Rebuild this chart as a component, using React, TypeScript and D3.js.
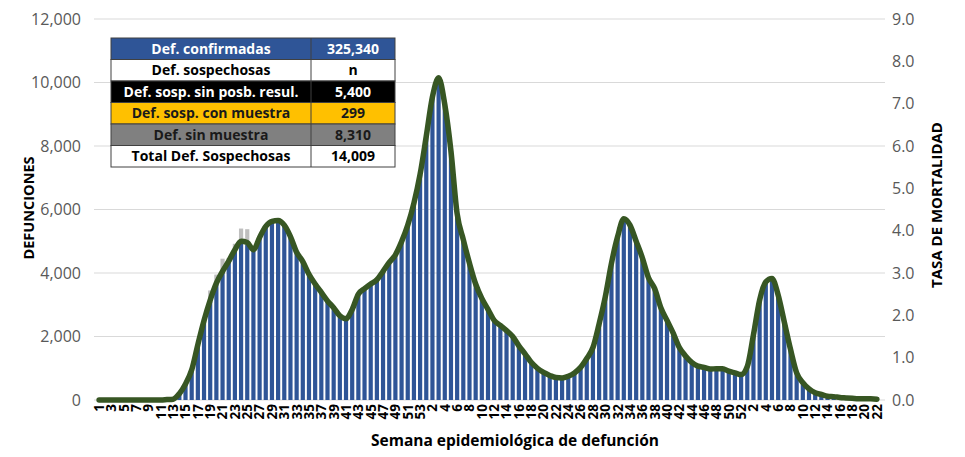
import React from "react";
import * as d3 from "d3";

// Week labels: 2020 (1-53), 2021 (1-52), 2022 (1-22)
const weeks2020 = d3.range(1, 54);
const weeks2021 = d3.range(1, 53);
const weeks2022 = d3.range(1, 23);
const weekLabels: string[] = [...weeks2020, ...weeks2021, ...weeks2022].map(String);

// Confirmed deaths per week
const confirmed: number[] = [
  0, 0, 0, 0, 0, 0, 0, 0, 0, 0, 2, 8,
  30, 200, 500, 950, 1750, 2500, 3100, 3650, 4000, 4350, 4700, 4950, 4900, 4700,
  5100, 5450, 5620, 5650, 5500, 5150, 4650, 4350, 3950, 3650, 3380, 3120, 2900, 2650,
  2560, 2850, 3330, 3500, 3650, 3790, 4050, 4330, 4570, 4980, 5500, 6200, 7100,
  8300, 9550, 10150, 9300, 7850, 5850, 5050, 4300, 3650, 3200, 2850, 2500, 2350,
  2180, 2000, 1700, 1450, 1180, 1000, 870, 770, 710, 690, 740, 850, 1020, 1300,
  1650, 2400, 3250, 4300, 5150, 5700, 5500, 5000, 4480, 3850, 3500, 2900, 2500,
  2100, 1650, 1380, 1180, 1070, 1020, 970, 980, 990, 910, 850, 800,
  1050, 2050, 3150, 3720, 3830, 3300, 2450, 1600, 850, 550, 340, 230, 170, 120,
  100, 80, 60, 50, 45, 40, 35, 30,
];

// Suspected deaths per week (grey stack)
const suspected: number[] = [
  0, 0, 0, 0, 0, 0, 0, 0, 0, 0, 0, 0,
  0, 0, 0, 0, 0, 60, 350, 300, 450, 120, 220, 450, 480, 150,
  60, 40, 0, 0, 0, 0, 0, 0, 0, 0, 0, 0, 0, 0,
  0, 0, 0, 0, 0, 0, 0, 0, 0, 0, 0, 0, 0,
  0, 0, 0, 0, 0, 0, 0, 0, 0, 0, 0, 0, 0,
  0, 0, 0, 0, 0, 0, 0, 0, 0, 0, 0, 0, 0, 0,
  0, 0, 0, 0, 0, 0, 0, 0, 0, 0, 0, 0, 0,
  0, 0, 0, 0, 0, 0, 0, 0, 0, 0, 0, 0,
  0, 0, 0, 0, 0, 0, 0, 0, 0, 0, 0, 0, 0, 0,
  0, 0, 0, 0, 0, 0, 0, 0,
];

// Mortality rate per week (right axis)
const rate: number[] = [
  0, 0, 0, 0, 0, 0, 0, 0, 0, 0, 0, 0.01,
  0.02, 0.15, 0.38, 0.71, 1.31, 1.88, 2.36, 2.76, 3.04, 3.28, 3.55, 3.75, 3.72, 3.55,
  3.84, 4.1, 4.22, 4.24, 4.13, 3.86, 3.49, 3.27, 2.97, 2.74, 2.54, 2.34, 2.18, 1.99,
  1.92, 2.14, 2.5, 2.63, 2.74, 2.84, 3.04, 3.25, 3.43, 3.74, 4.13, 4.65, 5.33,
  6.23, 7.16, 7.61, 6.98, 5.88, 4.4, 3.79, 3.23, 2.74, 2.4, 2.14, 1.88, 1.76,
  1.64, 1.5, 1.28, 1.09, 0.89, 0.75, 0.65, 0.58, 0.53, 0.52, 0.56, 0.64, 0.77, 0.98,
  1.24, 1.8, 2.44, 3.23, 3.86, 4.28, 4.13, 3.75, 3.36, 2.89, 2.63, 2.18, 1.88,
  1.58, 1.24, 1.04, 0.89, 0.8, 0.77, 0.73, 0.74, 0.74, 0.68, 0.64, 0.6,
  0.79, 1.54, 2.36, 2.79, 2.87, 2.48, 1.84, 1.2, 0.64, 0.41, 0.26, 0.17, 0.13, 0.09,
  0.08, 0.06, 0.05, 0.04, 0.03, 0.03, 0.03, 0.02,
];

const leftTicks = [0, 2000, 4000, 6000, 8000, 10000, 12000];
const rightTicks = [0, 1, 2, 3, 4, 5, 6, 7, 8, 9];

const tableLabels = [
  "Def. confirmadas",
  "Def. sospechosas",
  "Def. sosp. sin posb. resul.",
  "Def. sosp. con  muestra",
  "Def. sin muestra",
  "Total Def. Sospechosas",
];
const tableValues = ["325,340", "n", "5,400", "299", "8,310", "14,009"];
const tableFills = ["#2F5597", "#FFFFFF", "#000000", "#FFC000", "#808080", "#FFFFFF"];
const tableText = ["#FFFFFF", "#000000", "#FFFFFF", "#1a1a1a", "#1a1a1a", "#000000"];

const W = 965;
const H = 457;
const left = 96;
const right = 880;
const top = 19;
const bottom = 400;
const FONT = "'Open Sans', 'Noto Sans', sans-serif";

export default function App() {
  const idx = weekLabels.map((_, i) => i);
  const x = d3.scaleBand<number>().domain(idx).range([left, right]).paddingInner(0.32).paddingOuter(0.16);
  const y = d3.scaleLinear().domain([0, 12000]).range([bottom, top]);
  const yR = d3.scaleLinear().domain([0, 9]).range([bottom, top]);
  const fmt = d3.format(",");
  const line = d3
    .line<number>()
    .x((_, i) => (x(i) as number) + x.bandwidth() / 2)
    .y((d) => yR(d))
    .curve(d3.curveMonotoneX);

  const tX0 = 111;
  const tX1 = 311;
  const tX2 = 395;
  const tY0 = 38;
  const rowH = 21.5;

  return (
    <svg width={W} height={H} style={{ position: "absolute", left: 0, top: 0, background: "#fff" }} fontFamily={FONT}>
      {/* grid */}
      {leftTicks.map((t) => (
        <line key={"g" + t} x1={left - 2} x2={right + 5} y1={y(t)} y2={y(t)} stroke="#d9d9d9" strokeWidth={1} />
      ))}
      {/* bars */}
      {confirmed.map((v, i) => (
        <rect key={"b" + i} x={x(i)} width={x.bandwidth()} y={y(v)} height={y(0) - y(v)} fill="#2F5597" />
      ))}
      {suspected.map((v, i) =>
        v > 0 ? (
          <rect key={"s" + i} x={x(i)} width={x.bandwidth()} y={y(confirmed[i] + v)} height={y(0) - y(v)} fill="#BFBFBF" />
        ) : null
      )}
      {/* rate line */}
      <path d={line(rate) || ""} fill="none" stroke="#375623" strokeWidth={5.5} strokeLinejoin="round" strokeLinecap="round" />
      {/* left axis labels */}
      {leftTicks.map((t) => (
        <text key={"l" + t} x={81} y={y(t)} dy="0.35em" textAnchor="end" fontSize={16} fill="#595959">
          {fmt(t)}
        </text>
      ))}
      {/* right axis labels */}
      {rightTicks.map((t) => (
        <text key={"r" + t} x={892} y={yR(t)} dy="0.35em" textAnchor="start" fontSize={16} fill="#595959">
          {t.toFixed(1)}
        </text>
      ))}
      {/* x labels */}
      {weekLabels.map((w, i) =>
        i % 2 === 0 ? (
          <text
            key={"x" + i}
            transform={`translate(${(x(i) as number) + x.bandwidth() / 2},${bottom + 4}) rotate(-90)`}
            dy="0.36em"
            textAnchor="end"
            fontSize={13.5}
            fontWeight="bold"
            fill="#000"
          >
            {w}
          </text>
        ) : null
      )}
      {/* axis titles */}
      <text x={515} y={446} textAnchor="middle" fontSize={15.5} fontWeight="bold" fill="#000">
        Semana epidemiológica de defunción
      </text>
      <text transform={`translate(34,208) rotate(-90)`} textAnchor="middle" fontSize={14.5} fontWeight="bold" fill="#000">
        DEFUNCIONES
      </text>
      <text transform={`translate(942,205) rotate(-90)`} textAnchor="middle" fontSize={15} fontWeight="bold" fill="#000">
        TASA DE MORTALIDAD
      </text>
      {/* table */}
      {tableLabels.map((lab, r) => (
        <g key={"t" + r}>
          <rect x={tX0} y={tY0 + r * rowH} width={tX2 - tX0} height={rowH} fill={tableFills[r]} stroke="#404040" strokeWidth={1} />
          <line x1={tX1} x2={tX1} y1={tY0 + r * rowH} y2={tY0 + (r + 1) * rowH} stroke="#404040" strokeWidth={1} />
          <text x={(tX0 + tX1) / 2} y={tY0 + r * rowH + rowH / 2} dy="0.35em" textAnchor="middle" fontSize={14} fontWeight="bold" fill={tableText[r]}>
            {lab}
          </text>
          <text x={(tX1 + tX2) / 2} y={tY0 + r * rowH + rowH / 2} dy="0.35em" textAnchor="middle" fontSize={14} fontWeight="bold" fill={tableText[r]}>
            {tableValues[r]}
          </text>
        </g>
      ))}
    </svg>
  );
}
